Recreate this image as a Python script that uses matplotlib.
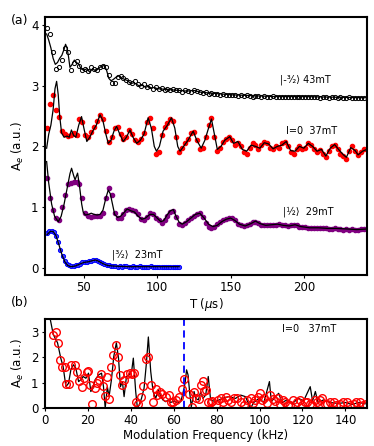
import numpy as np
import matplotlib
matplotlib.use('Agg')
import matplotlib.pyplot as plt

# ---- panel (a): time traces ----
# |-3/2> 43mT data (open black circles), sampled every 2 us from 25 us
a43 = [3.95, 3.85, 3.55, 3.28, 3.30, 3.42, 3.62, 3.55, 3.26, 3.38,
       3.40, 3.32, 3.25, 3.28, 3.24, 3.30, 3.27, 3.25, 3.31, 3.32,
       3.30, 3.18, 3.05, 3.05, 3.14, 3.15, 3.12, 3.10, 3.06, 3.04,
       3.07, 3.02, 2.99, 3.03, 2.98, 2.99, 2.95, 2.97, 2.94, 2.96,
       2.92, 2.94, 2.93, 2.95, 2.92, 2.93, 2.90, 2.92, 2.91, 2.90,
       2.93, 2.91, 2.89, 2.88, 2.89, 2.87, 2.88, 2.86, 2.86, 2.85,
       2.86, 2.84, 2.85, 2.84, 2.84, 2.83, 2.84, 2.83, 2.84, 2.83,
       2.82, 2.83, 2.83, 2.82, 2.83, 2.82, 2.82, 2.83, 2.82, 2.81,
       2.82, 2.82, 2.81, 2.82, 2.81, 2.82, 2.81, 2.82, 2.81, 2.81,
       2.82, 2.81, 2.81, 2.80, 2.81, 2.81, 2.80, 2.81, 2.81, 2.80,
       2.81, 2.80, 2.80, 2.81, 2.80, 2.80, 2.80, 2.80, 2.80]
fit43_t = [24.6, 26, 27.5, 29, 30.5, 32, 33.5, 35, 36.5, 37.5, 38.5, 39.5, 40.5, 42, 43.5,
           45, 46.5, 48, 50, 52, 54, 56, 58, 60, 62, 64, 65.5, 67, 68.5, 70, 72, 74, 76,
           78, 80, 82, 84, 86, 88, 90, 92, 94, 96, 98, 100, 105, 110, 115, 120, 125, 130,
           135, 140, 145, 150, 160, 170, 180, 200, 220, 243]
fit43_a = [3.85, 3.75, 3.62, 3.45, 3.35, 3.38, 3.45, 3.50, 3.60, 3.68, 3.62, 3.48, 3.30, 3.35, 3.42,
           3.38, 3.35, 3.28, 3.25, 3.28, 3.22, 3.28, 3.24, 3.28, 3.32, 3.33, 3.25, 3.12, 3.08, 3.10, 3.14, 3.16, 3.12,
           3.10, 3.08, 3.03, 3.05, 3.02, 2.99, 3.01, 2.97, 2.99, 2.96, 2.97, 2.95, 2.94, 2.93, 2.92, 2.91, 2.92, 2.89,
           2.88, 2.87, 2.86, 2.85, 2.84, 2.83, 2.82, 2.82, 2.81, 2.80]

# I=0 37mT data (red), every 2 us from 25 us
a37 = [2.30, 2.70, 2.85, 2.60, 2.48, 2.25, 2.20, 2.17, 2.18, 2.22,
       2.18, 2.45, 2.40, 2.18, 2.15, 2.24, 2.32, 2.42, 2.52, 2.45,
       2.25, 2.08, 2.15, 2.30, 2.32, 2.20, 2.12, 2.15, 2.27, 2.20,
       2.10, 2.08, 2.12, 2.22, 2.40, 2.47, 2.30, 1.88, 1.90, 2.18,
       2.32, 2.38, 2.45, 2.42, 2.15, 1.90, 1.98, 2.06, 2.12, 2.22,
       2.24, 2.10, 1.95, 1.98, 2.15, 2.35, 2.46, 2.15, 1.92, 1.98,
       2.08, 2.12, 2.16, 2.10, 2.02, 2.06, 2.00, 1.90, 1.88, 1.98,
       2.06, 2.02, 1.96, 2.02, 2.08, 2.06, 1.98, 1.95, 2.00, 1.98,
       2.05, 2.08, 2.00, 1.90, 1.88, 1.95, 2.00, 1.96, 1.98, 2.05,
       2.03, 1.95, 1.90, 1.94, 1.88, 1.82, 1.92, 2.00, 2.03, 1.96,
       1.88, 1.84, 1.80, 1.92, 2.00, 1.92, 1.86, 1.90, 1.95]
fit37_t = [24.6, 26, 27.5, 29, 30.3, 31.4, 32.5, 33.5, 34.8, 36.5, 38.5, 40, 41.5, 43, 44.5,
           46.5, 48.4, 50, 52, 54, 56, 58.5, 61, 63, 65, 66.6, 68.5, 70.5, 72.3, 74.5, 76.8,
           79, 81.4, 83.5, 86, 88.5, 91, 93.8, 96, 98, 99.5, 101.5, 104, 107, 109.7, 112,
           114, 115.6, 118, 121, 124.5, 127, 130, 132.5, 135, 137, 139, 141, 143.5, 146,
           149.5, 152, 155, 158, 161, 164, 167, 170, 173, 176, 179, 182, 185, 188, 191,
           194, 197, 200, 203, 206, 209, 212, 215, 218, 221, 224, 227, 229, 232, 235, 237,
           240, 243]
fit37_a = [1.97, 2.20, 2.35, 2.60, 2.95, 3.07, 2.85, 2.50, 2.22, 2.15, 2.17, 2.15, 2.27, 2.18, 2.15,
           2.35, 2.49, 2.30, 2.08, 2.15, 2.25, 2.35, 2.52, 2.42, 2.20, 2.05, 2.10, 2.25, 2.33, 2.20, 2.08,
           2.15, 2.27, 2.15, 2.05, 2.10, 2.20, 2.47, 2.30, 2.00, 1.92, 2.00, 2.25, 2.35, 2.47, 2.30,
           2.00, 1.92, 2.00, 2.10, 2.25, 2.10, 1.97, 2.10, 2.30, 2.45, 2.20, 1.95, 2.00, 2.10,
           2.16, 2.05, 2.08, 1.95, 1.92, 2.02, 2.00, 1.97, 2.06, 2.04, 1.96, 2.00, 2.02, 2.08, 1.93,
           1.92, 2.00, 1.97, 2.05, 2.00, 1.92, 1.95, 1.84, 1.97, 2.03, 1.94, 1.86, 1.82, 1.98, 1.93, 1.86,
           1.92, 1.95]

# |1/2> 29mT data (purple), every 2 us from 25 us
a29 = [1.48, 1.15, 0.95, 0.82, 0.78, 1.00, 1.20, 1.38, 1.40, 1.42,
       1.42, 1.38, 1.15, 0.90, 0.85, 0.84, 0.85, 0.86, 0.86, 0.90,
       1.15, 1.31, 1.20, 0.90, 0.82, 0.82, 0.88, 0.95, 0.97, 0.96,
       0.93, 0.88, 0.80, 0.79, 0.84, 0.90, 0.88, 0.82, 0.78, 0.74,
       0.78, 0.86, 0.92, 0.94, 0.84, 0.72, 0.70, 0.74, 0.78, 0.82,
       0.86, 0.89, 0.90, 0.84, 0.74, 0.68, 0.66, 0.68, 0.72, 0.76,
       0.78, 0.80, 0.82, 0.82, 0.78, 0.72, 0.70, 0.69, 0.70, 0.73,
       0.75, 0.76, 0.74, 0.71, 0.70, 0.70, 0.71, 0.70, 0.71, 0.72,
       0.71, 0.70, 0.69, 0.70, 0.71, 0.70, 0.68, 0.67, 0.67, 0.66,
       0.66, 0.65, 0.65, 0.66, 0.65, 0.65, 0.64, 0.64, 0.65, 0.64,
       0.64, 0.63, 0.64, 0.63, 0.64, 0.63, 0.63, 0.64, 0.64]
fit29_t = [24.6, 26, 28, 30, 32.5, 34.5, 36.5, 38.5, 40.5, 41.6, 43, 44, 45.7, 47, 48.5, 49.5,
           51, 53, 55, 57, 59, 61, 63, 65, 66.6, 68, 69.5, 71, 73, 75, 77, 79.5, 82, 84.5,
           87, 89.5, 92, 95, 97.5, 100, 102.5, 104.5, 107, 109, 111, 113, 115, 117, 120,
           123, 126, 129, 132, 135, 138, 141, 144, 147, 150, 153, 156, 160, 164, 167, 170,
           174, 178, 182, 186, 190, 194, 198, 204, 210, 216, 222, 230, 236, 243]
fit29_a = [1.75, 1.40, 1.05, 0.85, 0.76, 0.85, 1.05, 1.30, 1.55, 1.64, 1.52, 1.45, 1.56, 1.35, 1.05, 0.92,
           0.87, 0.88, 0.90, 0.88, 0.87, 0.88, 0.95, 1.15, 1.28, 1.22, 1.05, 0.88, 0.83, 0.85, 0.90, 0.97, 0.94, 0.92,
           0.85, 0.80, 0.82, 0.88, 0.88, 0.82, 0.76, 0.78, 0.88, 0.94, 0.96, 0.84, 0.75, 0.72, 0.76,
           0.82, 0.88, 0.90, 0.82, 0.72, 0.68, 0.70, 0.76, 0.80, 0.82, 0.78, 0.72, 0.69, 0.73, 0.77, 0.73,
           0.70, 0.71, 0.72, 0.70, 0.69, 0.71, 0.68, 0.66, 0.66, 0.65, 0.65, 0.64, 0.63, 0.64]

# |3/2> 23mT data (blue), every 1.5 us from 25 us
a23 = [0.57, 0.60, 0.61, 0.59, 0.52, 0.42, 0.30, 0.20, 0.12, 0.07,
       0.04, 0.03, 0.03, 0.04, 0.05, 0.07, 0.09, 0.10, 0.10, 0.11,
       0.12, 0.13, 0.13, 0.12, 0.10, 0.08, 0.06, 0.05, 0.04, 0.03,
       0.03, 0.03, 0.02, 0.03, 0.02, 0.03, 0.03, 0.02, 0.02, 0.03,
       0.02, 0.02, 0.03, 0.02, 0.01, 0.02, 0.02, 0.03, 0.02, 0.02,
       0.01, 0.02, 0.02, 0.01, 0.02, 0.02, 0.01, 0.02, 0.01, 0.02, 0.02]
fit23_t = [25, 27, 29, 31, 33, 35, 37, 39, 41, 44, 47, 50, 53, 56, 58, 60, 63, 66, 70, 80, 90, 100, 115]
fit23_a = [0.55, 0.60, 0.60, 0.53, 0.38, 0.22, 0.10, 0.04, 0.02, 0.03, 0.06, 0.09, 0.10, 0.12, 0.13,
           0.11, 0.07, 0.04, 0.03, 0.02, 0.02, 0.02, 0.02]

# ---- panel (b): modulation spectrum of I=0 37mT ----
fft_f = [3.9, 5.1, 6.2, 7.1, 7.9, 9.3, 9.8, 11.3, 12.1, 14.1, 14.9, 16.0, 17.1, 18.3, 19.8,
         20.3, 21.1, 22.0, 23.3, 24.5, 25.3, 26.2, 27.1, 27.9, 29.0, 29.9, 31.0, 31.9, 33.2,
         33.9, 34.9, 35.7, 36.7, 38.3, 39.7, 40.8, 41.6, 42.3, 43.4, 44.8, 45.9, 47.0, 48.2,
         49.3, 50.5, 51.6, 52.4, 53.5, 54.7, 56.3, 57.8, 58.6, 59.7, 60.9, 62.5, 63.7, 64.9,
         67.1, 68.4, 69.4, 70.5, 71.8, 72.6, 73.5, 74.1, 75.2, 76.1, 77.3, 78.0, 79.6, 80.5,
         81.9, 83.0, 84.3, 85.5, 86.6, 88.1, 89.6, 91.2, 92.7, 94.0, 95.8, 97.0, 98.1, 99.3,
         100.1, 101.0, 102.0, 103.5, 105.0, 106.2, 107.4, 108.5, 109.7, 111.0, 112.0, 113.2,
         114.4, 115.6, 117.5, 118.7, 119.8, 121.0, 122.1, 123.3, 124.4, 125.6, 126.8, 128.0,
         129.1, 130.3, 131.4, 132.8, 134.5, 135.8, 137.6, 139.0, 140.7, 142.0, 143.8, 145.0,
         146.9, 148.3, 149.5]
fft_a = [2.86, 2.99, 2.56, 1.87, 1.63, 1.63, 0.95, 0.94, 1.70, 1.70, 1.41, 1.07, 0.82, 1.17, 1.41,
         1.44, 0.91, 0.17, 0.80, 0.97, 1.11, 1.34, 0.87, 0.49, 1.21, 0.36, 1.61, 2.07, 2.49,
         1.99, 1.30, 0.91, 1.11, 1.33, 1.37, 1.33, 1.37, 0.22, 0.18, 0.45, 0.88, 1.94, 1.99,
         0.91, 0.22, 0.75, 0.51, 0.65, 0.55, 0.45, 0.51, 0.25, 0.25, 0.32, 0.45, 0.75, 1.13,
         0.55, 0.06, 0.65, 0.38, 0.36, 0.90, 1.08, 0.67, 0.71, 0.25, 0.22, 0.29, 0.14, 0.30,
         0.38, 0.25, 0.45, 0.30, 0.22, 0.38, 0.41, 0.22, 0.14, 0.30, 0.38, 0.20, 0.32, 0.45,
         0.58, 0.30, 0.38, 0.20, 0.51, 0.35, 0.28, 0.40, 0.18, 0.30, 0.22, 0.12,
         0.14, 0.30, 0.22, 0.30, 0.14, 0.25, 0.22, 0.15, 0.12, 0.30, 0.22, 0.32,
         0.41, 0.15, 0.18, 0.25, 0.22, 0.12, 0.18, 0.25, 0.22, 0.12, 0.18, 0.25,
         0.22, 0.12, 0.18]
sim_f = [2.0, 3.9, 5.9, 7.4, 8.5, 9.8, 11.0, 12.1, 13.3, 14.4, 15.7, 16.7, 17.8, 19.1, 20.3,
         21.4, 22.2, 23.4, 25.0, 26.4, 27.3, 28.1, 29.1, 29.9, 31.0, 32.1, 33.3, 34.3, 35.2,
         36.1, 36.9, 38.0, 39.2, 40.5, 41.2, 42.3, 43.1, 43.9, 45.0, 46.2, 47.3, 48.2, 49.3,
         50.4, 51.6, 52.9, 54.0, 55.0, 56.3, 57.5, 58.6, 60.2, 61.7, 63.3, 64.3, 65.3, 66.0,
         66.7, 67.4, 68.2, 69.5, 70.2, 71.5, 72.6, 73.6, 74.9, 76.1, 77.2, 79.5, 82.6, 85.7,
         88.8, 91.2, 93.4, 95.8, 97.3, 99.7, 102.0, 104.6, 105.5, 107.4, 108.9, 110.5, 112.8,
         115.1, 118.2, 120.5, 123.6, 124.7, 126.0, 127.2, 129.8, 132.9, 136.8, 139.9, 143.0,
         146.1, 149.2]
sim_a = [3.70, 2.89, 2.56, 1.96, 1.63, 0.84, 0.97, 1.50, 1.70, 1.57, 1.04, 1.11, 1.24, 1.17, 1.37,
         0.65, 0.75, 1.11, 1.30, 1.37, 0.84, 0.00, 0.84, 0.45, 1.11, 2.03, 2.56, 1.96, 0.84,
         1.04, 0.45, 1.24, 1.30, 1.50, 1.96, 0.65, 0.00, 0.12, 0.38, 0.78, 1.77, 2.79, 1.44,
         0.65, 0.38, 0.71, 0.45, 0.32, 0.25, 0.32, 0.22, 0.28, 0.22, 0.25, 0.58, 0.97, 1.50,
         1.30, 0.65, 0.05, 0.65, 0.38, 0.32, 0.65, 0.38, 0.51, 1.24, 0.32, 0.25, 0.38, 0.45,
         0.38, 0.51, 0.45, 0.00, 0.22, 0.38, 0.22, 1.04, 0.25, 0.45, 0.58, 0.22, 0.32,
         0.18, 0.38, 0.28, 0.84, 0.28, 0.65, 0.22, 0.32, 0.22, 0.18, 0.22, 0.14,
         0.22, 0.17]
f_mark = 64.8

t43 = 25 + 2 * np.arange(len(a43))
t37 = 25 + 2 * np.arange(len(a37))
t29 = 25 + 2 * np.arange(len(a29))
t23 = 25 + 1.5 * np.arange(len(a23))

fig = plt.figure(figsize=(3.74, 4.46), dpi=100)
ax1 = fig.add_axes([0.120, 0.383, 0.861, 0.579])
ax2 = fig.add_axes([0.120, 0.085, 0.861, 0.200])

ms = 3
ax1.plot(t43, a43, 'o', mfc='none', mec='k', ms=ms, mew=0.7)
ax1.plot(fit43_t, fit43_a, 'k-', lw=0.9)
ax1.plot(t37, a37, 'o', color='red', ms=ms)
ax1.plot(fit37_t, fit37_a, 'k-', lw=0.9)
ax1.plot(t29, a29, 'o', color='purple', ms=ms)
ax1.plot(fit29_t, fit29_a, 'k-', lw=0.9)
ax1.plot(t23, a23, 'o', mfc='#4040ff', mec='blue', ms=ms, mew=0.7)
ax1.plot(fit23_t, fit23_a, 'k-', lw=0.9)

fs = 7
ax1.text(183.5, 3.10, '|-³⁄₂⟩ 43mT', fontsize=fs, va='center')
ax1.text(188, 2.25, 'I=0  37mT', fontsize=fs, va='center')
ax1.text(186, 0.93, '|½⟩  29mT', fontsize=fs, va='center')
ax1.text(69, 0.21, '|³⁄₂⟩  23mT', fontsize=fs, va='center')

ax1.set_xlim(23.4, 243)
ax1.set_ylim(-0.12, 4.13)
ax1.set_xticks([50, 100, 150, 200])
ax1.set_yticks([0, 1, 2, 3, 4])
ax1.set_xlabel(r'T ($\mu$s)', fontsize=8.5, labelpad=1)
ax1.set_ylabel(r'A$_e$ (a.u.)', fontsize=8.5, labelpad=4)

ax2.plot(sim_f, sim_a, 'k-', lw=0.9)
ax2.plot(fft_f, fft_a, 'o', mfc='none', mec='red', ms=5.5, mew=1.0)
ax2.axvline(f_mark, color='blue', ls='--', lw=1.3, dashes=(4, 2.5))
ax2.text(123, 3.12, 'I=0   37mT', fontsize=fs, ha='center', va='center')
ax2.set_xlim(0, 150)
ax2.set_ylim(0, 3.5)
ax2.set_xticks(np.arange(0, 141, 20))
ax2.set_yticks([0, 1, 2, 3])
ax2.set_xlabel('Modulation Frequency (kHz)', fontsize=8.5, labelpad=1)
ax2.set_ylabel(r'A$_e$ (a.u.)', fontsize=8.5, labelpad=4)

for ax in (ax1, ax2):
    for s in ax.spines.values():
        s.set_linewidth(1.5)
    ax.tick_params(labelsize=8.5, length=2.5, width=0.8, pad=2)

fig.text(0.03, 0.955, '(a)', fontsize=9, va='center')
fig.text(0.03, 0.322, '(b)', fontsize=9, va='center')

fig.savefig('out.png', dpi=100)
